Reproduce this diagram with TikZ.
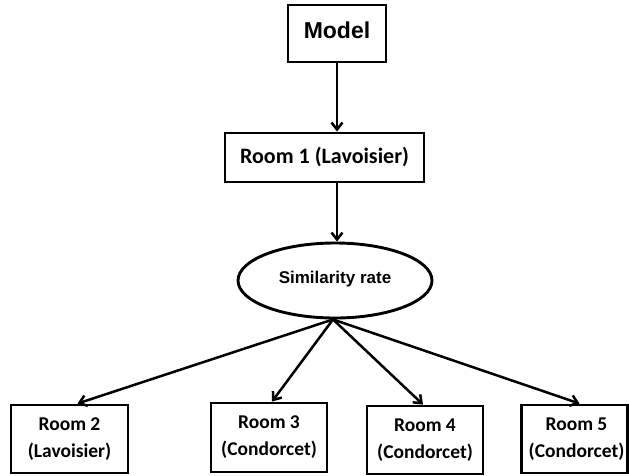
\documentclass[tikz,border=0pt]{standalone}
\usepackage{fontspec}
\setmainfont{Liberation Sans}
\newfontfamily\roomfont{Carlito}
\usetikzlibrary{arrows.meta,shapes.geometric}
\begin{document}
\begin{tikzpicture}[x=1pt,y=-1pt,
  box/.style={draw=black,line width=2.9pt,rectangle,inner sep=0pt,align=center,fill=white},
  roomtxt/.style={font=\roomfont\bfseries\fontsize{19.5}{27}\selectfont},
  arr/.style={line width=2.5pt,-{Straight Barb[length=7pt,width=11pt,line width=2.5pt]}}]
  \useasboundingbox (0,0) rectangle (629,475);
  % top of the chain
  \node[box,minimum width=98pt,minimum height=57pt,font=\bfseries\fontsize{23}{27}\selectfont]
    (model) at (337,33.5) {\raisebox{6pt}{Model}};
  \node[box,minimum width=199pt,minimum height=49pt,font=\roomfont\bfseries\fontsize{22}{25}\selectfont]
    (room1) at (324.5,157.5) {\raisebox{4pt}{Room 1 (Lavoisier)}};
  \node[draw=black,line width=2.9pt,ellipse,inner sep=0pt,minimum width=194pt,minimum height=75pt,
    font=\bfseries\fontsize{17}{20}\selectfont] (sim) at (335,280.5) {\raisebox{7pt}{Similarity rate}};
  % the four rooms compared
  \node[box,roomtxt,minimum width=117pt,minimum height=68pt] (room2) at (69.5,439) {Room 2\\(Lavoisier)};
  \node[box,roomtxt,minimum width=116pt,minimum height=69pt] (room3) at (269,437.5) {Room 3\\(Condorcet)};
  \node[box,roomtxt,minimum width=116pt,minimum height=68pt] (room4) at (425,440) {Room 4\\(Condorcet)};
  \node[box,roomtxt,minimum width=106pt,minimum height=68pt] (room5) at (574.5,439) {\hspace*{4pt}Room 5\\\hspace*{4pt}(Condorcet)};
  % connectors
  \draw[arr] (model.south) -- (model.south |- room1.north);
  \draw[arr] (room1.south -| model.south) -- (sim.north -| model.south);
  \coordinate (apex) at ([xshift=-2pt]sim.south);
  \draw[arr] (apex) -- ([xshift=8pt]room2.north);
  \draw[arr] (apex) -- ([xshift=3pt]room3.north);
  \draw[arr] (apex) -- ([xshift=-2pt]room4.north);
  \draw[arr] (apex) -- ([xshift=5pt]room5.north);
\end{tikzpicture}
\end{document}
